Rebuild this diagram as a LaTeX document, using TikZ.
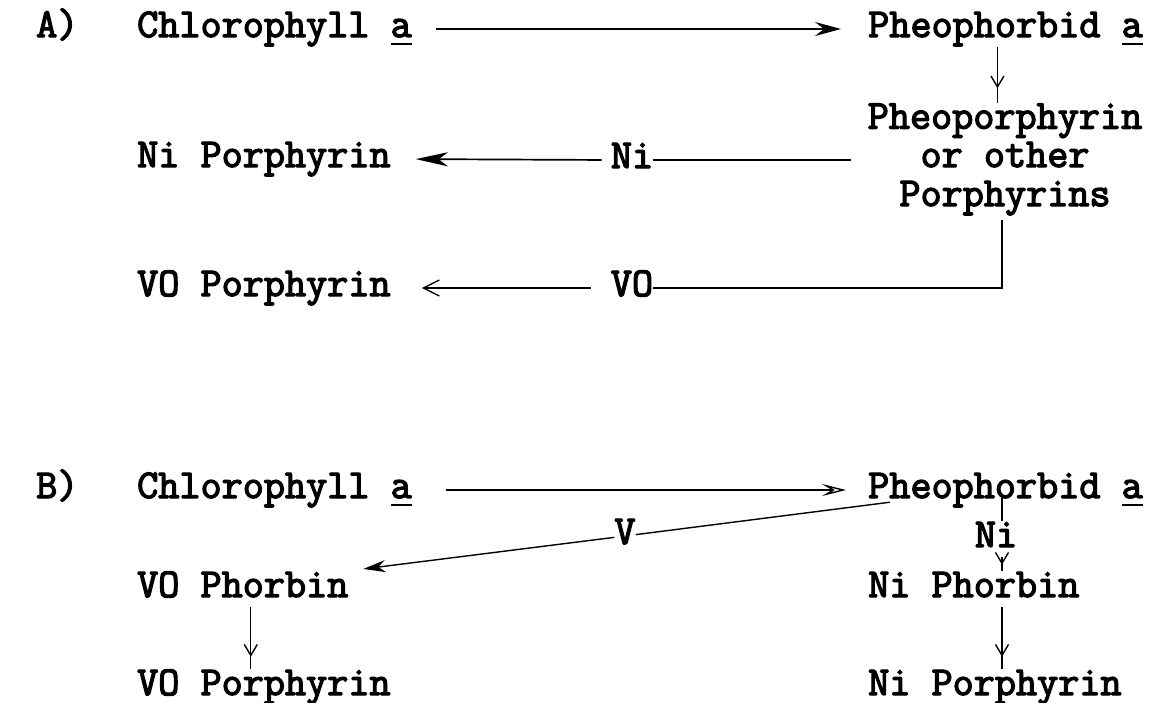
\documentclass[tikz,border=0pt]{standalone}
\usetikzlibrary{arrows.meta,decorations.markings}
\newcommand\ula{\makebox[0pt][l]{\rule[-8pt]{21.5pt}{2.2pt}}a}
\tikzset{
  fb/.style={execute at begin node={\special{pdf:literal direct 2 Tr 1.3 w}},
             execute at end node={\special{pdf:literal direct 0 Tr}}},
  lbl/.style={fb, inner sep=0pt, anchor=base west, text height=26pt, text depth=10pt,
    font=\fontsize{41}{32}\selectfont\ttfamily},
  mlbl/.style={fb, inner sep=0pt, align=center,
    font=\fontsize{41}{32}\selectfont\ttfamily},
  conn/.style={line width=1.4pt},
  boldhead/.style={-{Stealth[length=26pt,width=14pt,inset=9pt]}},
  nihead/.style={-{Stealth[length=32pt,width=14pt,inset=9pt]}},
  openhead/.style={-{Straight Barb[length=16pt,width=16pt]}},
  dblhead/.style={-{Stealth[open,length=24pt,width=12pt,inset=10pt]}},
  vhead/.style={-{Stealth[length=22pt,width=12pt,inset=7pt]}},
  ymark/.style={postaction={decorate,decoration={markings,
    mark=at position #1 with {\arrow{Straight Barb[length=11pt,width=13pt]}}}}},
  ymark/.default=-12pt
}
\begin{document}
\begin{tikzpicture}[x=1pt,y=-1pt]
\useasboundingbox (0,0) rectangle (1152,702);
\fill[white] (0,0) rectangle (1152,702);
% ---------- A ----------
\node[lbl] (labA) at (36,37) {A)};
\node[lbl] (chlA) at (137,37) {Chlorophyll \ula};
\node[lbl] (pheoA) at (868,37) {Pheophorbid \ula};
\node[mlbl, anchor=base] (pp) at (1005,206) {Pheoporphyrin\\[3pt]or other\\[7pt]Porphyrins};
\node[lbl] (niP) at (137,167) {Ni Porphyrin};
\node[lbl, anchor=base] (niA) at (632,168) {Ni};
\node[lbl] (voP) at (137,296) {VO Porphyrin};
\node[lbl, anchor=base] (voA) at (632,296) {VO};

\draw[conn, boldhead, shorten <=24pt, shorten >=27pt] (chlA.east) -- (pheoA.west);
\draw[conn, ymark=-15pt] ([xshift=-8pt]pheoA.south) -- ([xshift=-8pt]pheoA.south |- pp.north);
\draw[conn, line width=1.7pt, shorten <=17pt] (pp.west |- niA) -- (niA.east);
\draw[conn, line width=1.7pt, nihead, shorten <=9pt, shorten >=25pt] (niA.west) -- (niP.east);
\draw[conn, shorten <=4pt] ([xshift=-3pt]pp.south) |- (voA.east);
\draw[conn, openhead, shorten <=20pt, shorten >=31pt] (voA.west) -- (voP.east);

% ---------- B ----------
\node[lbl] (labB) at (36,498) {B)};
\node[lbl] (chlB) at (137,498) {Chlorophyll \ula};
\node[lbl] (pheoB) at (868,498) {Pheophorbid \ula};
\node[lbl] (voPh) at (137,597) {VO Phorbin};
\node[lbl] (niPh) at (868,597) {Ni Phorbin};
\node[lbl] (voPo) at (137,695) {VO Porphyrin};
\node[lbl] (niPo) at (868,695) {Ni Porphyrin};
\node[lbl, anchor=base] (niB) at (996,547) {Ni};
\node[lbl, anchor=center] (vB) at (625,536) {V};
\coordinate (vstart) at ([shift={(22,-6)}]pheoB.south west);
\coordinate (nix) at (1002,0);

\draw[conn, dblhead, shorten <=34pt, shorten >=22pt] (chlB.east) -- (pheoB.west);
\draw[conn] (vstart) -- (vB);
\draw[conn, vhead, shorten >=15pt] (vB) -- (voPh.north east);
\draw[conn] ([yshift=2pt]pheoB.base -| nix) -- (niB.north -| nix);
\draw[conn, ymark=-6pt] (niB.south -| nix) -- (niPh.north -| nix);
\draw[conn, ymark] ([xshift=8pt]voPh.south) -- ([xshift=8pt]voPh.south |- voPo.north);
\draw[conn, ymark] (niPh.south -| nix) -- (niPo.north -| nix);
\end{tikzpicture}
\end{document}
